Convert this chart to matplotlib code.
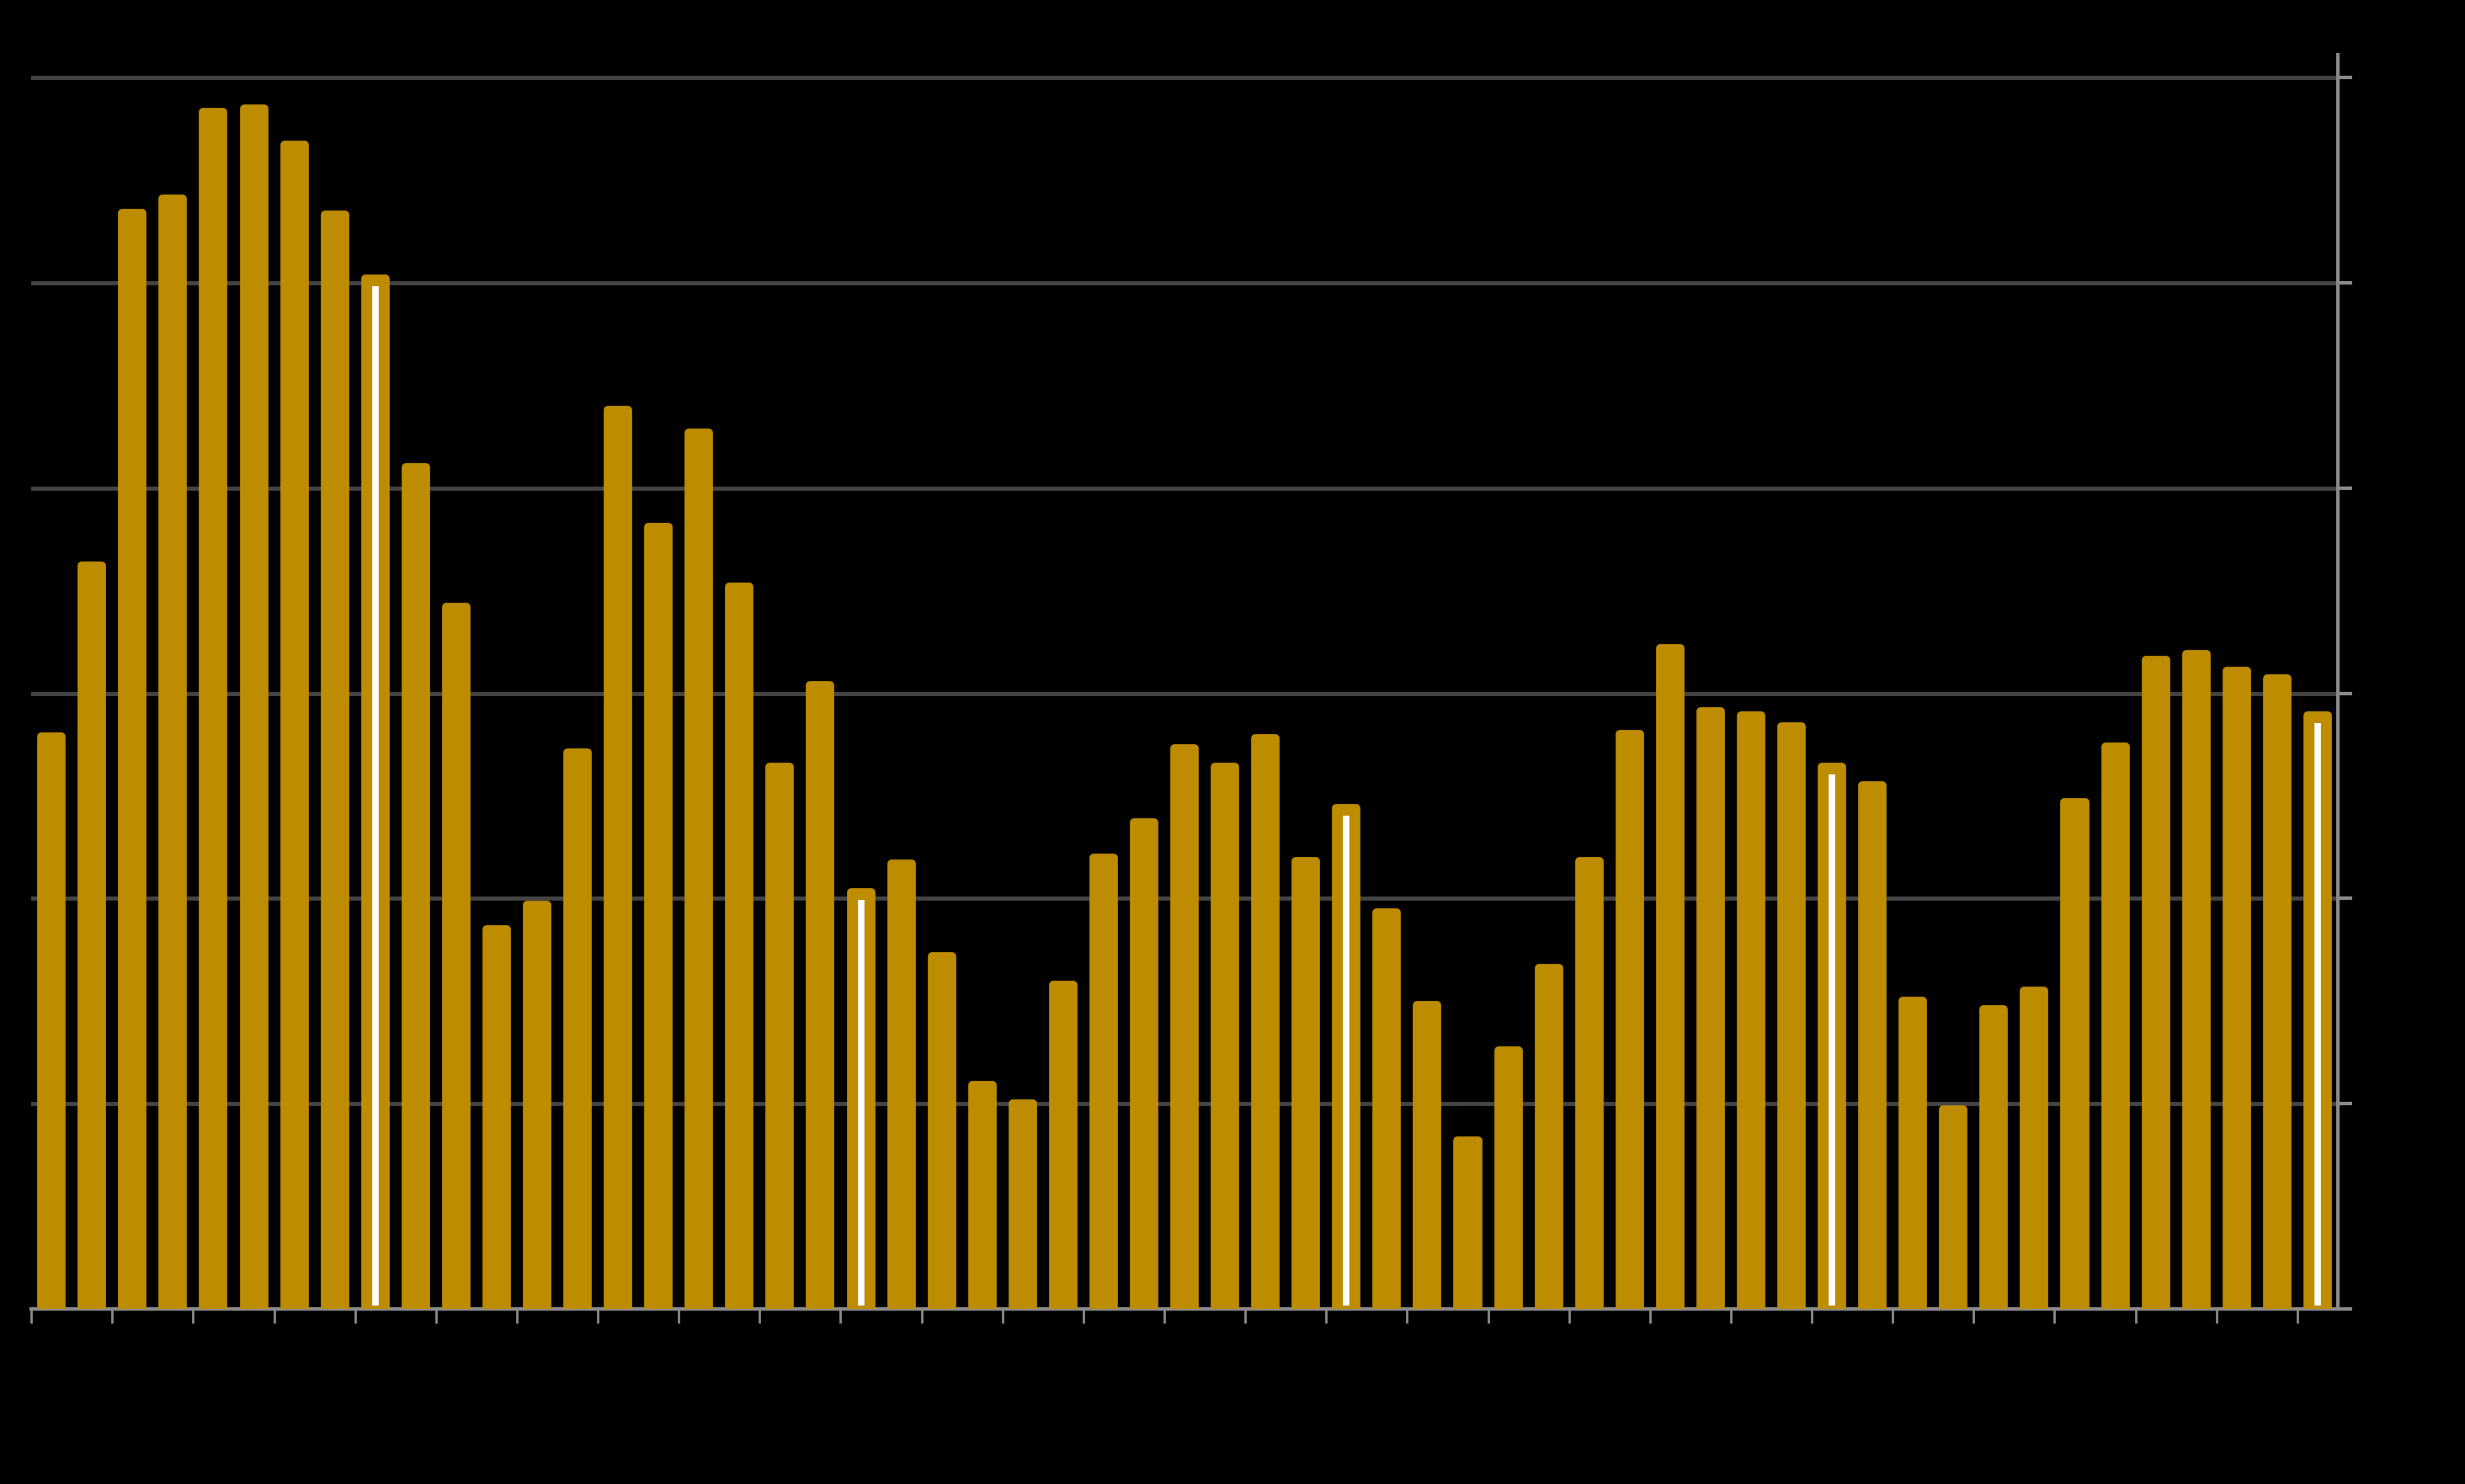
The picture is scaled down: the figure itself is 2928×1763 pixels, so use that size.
import numpy as np
import matplotlib
matplotlib.use('Agg')
import matplotlib.pyplot as plt

# monthly values (grid step = 1)
values = [
    2.81, 3.64, 5.36, 5.43, 5.85, 5.87, 5.69, 5.35, 5.04, 4.12,
    3.44, 1.87, 1.99, 2.73, 4.40, 3.83, 4.29, 3.54, 2.66, 3.06,
    2.05, 2.19, 1.74, 1.11, 1.02, 1.60, 2.22, 2.39, 2.75, 2.66,
    2.80, 2.20, 2.46, 1.95, 1.50, 0.84, 1.28, 1.68, 2.20, 2.82,
    3.24, 2.93, 2.91, 2.86, 2.66, 2.57, 1.52, 0.99, 1.48, 1.57,
    2.49, 2.76, 3.18, 3.21, 3.13, 3.09, 2.91,
]
# bars carrying the white marker line (every 12th month)
marked = [8, 20, 32, 44, 56]
y_ticks = [0, 1, 2, 3, 4, 5, 6]

bar_color = '#be8c00'
grid_color = '#444444'
axis_color = '#8a8a8a'

fig = plt.figure(figsize=(29.28, 17.63), dpi=100, facecolor='black')
ax = fig.add_axes([0.0127, 0.118, 0.9357, 0.845])
ax.set_facecolor('black')

x = np.arange(len(values))
vals = np.array(values)

# edge stroke rounds the bar tops; shrink height by half the stroke
edge_lw = 7
pad = (edge_lw / 2) * (100 / 72) / 244.0
ax.bar(x, vals - pad, width=0.5, color=bar_color, edgecolor=bar_color,
       linewidth=edge_lw, joinstyle='round', zorder=3)

mx = np.array(marked)
ax.vlines(mx, 0.017, vals[mx] - 0.055, color='white', linewidth=5.5,
          capstyle='butt', zorder=4)

ax.set_xlim(-0.5, len(values) - 0.5)
ax.set_ylim(0, 6.11)

ax.set_yticks(y_ticks)
ax.yaxis.tick_right()
ax.tick_params(axis='y', length=12, width=3, color=axis_color,
               labelright=False, labelleft=False)
ax.grid(axis='y', color=grid_color, linewidth=3.5, zorder=0)
ax.set_axisbelow(True)

ax.set_xticks(np.arange(-0.5, len(values), 2))
ax.tick_params(axis='x', length=12, width=2, color=axis_color, labelbottom=False)

for side in ['top', 'left']:
    ax.spines[side].set_visible(False)
ax.spines['right'].set_color(axis_color)
ax.spines['right'].set_linewidth(3)
ax.spines['bottom'].set_color(axis_color)
ax.spines['bottom'].set_linewidth(3)
ax.spines['bottom'].set_zorder(2)

fig.savefig('out.png', dpi=100, facecolor='black')
